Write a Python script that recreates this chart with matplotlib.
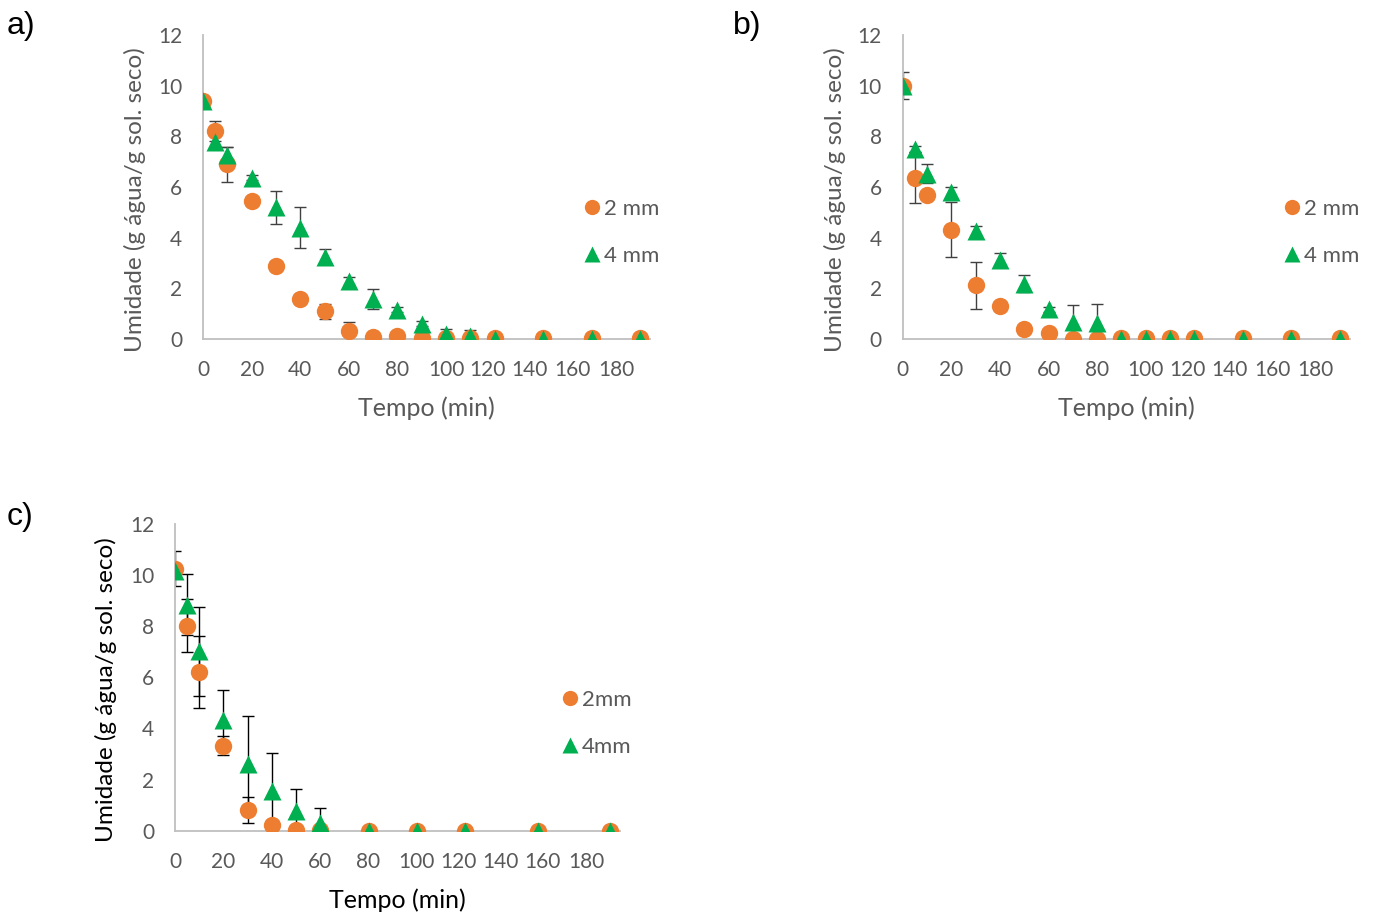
import numpy as np
import matplotlib
matplotlib.use("Agg")
import matplotlib.pyplot as plt
from matplotlib.lines import Line2D

plt.rcParams['font.family'] = ['Lato', 'DejaVu Sans']

orange = '#ED7D31'
green = '#00B050'
gray_txt = '#595959'
axis_col = '#BFBFBF'

# time points (min)
t_ab = [0, 5, 10, 20, 30, 40, 50, 60, 70, 80, 90, 100, 110, 120, 140, 160, 180]
t_c = [0, 5, 10, 20, 30, 40, 50, 60, 80, 100, 120, 150, 180]

# panel a
a_2mm = [9.38, 8.2, 6.89, 5.45, 2.89, 1.56, 1.10, 0.31, 0.09, 0.12, 0.04, 0.05, 0.05, 0.03, 0.03, 0.03, 0.03]
a_2mm_err = [0, 0.4, 0.7, 0, 0, 0, 0.3, 0.36, 0, 0, 0, 0, 0, 0, 0, 0, 0]
a_4mm = [9.4, 7.77, 7.28, 6.36, 5.2, 4.4, 3.25, 2.3, 1.58, 1.15, 0.6, 0.2, 0.1, 0.0, 0.0, 0.0, 0.0]
a_4mm_err = [0, 0, 0.3, 0.1, 0.65, 0.8, 0.3, 0.15, 0.4, 0.1, 0.1, 0.2, 0.25, 0, 0, 0, 0]

# panel b
b_2mm = [10.0, 6.37, 5.7, 4.32, 2.12, 1.31, 0.39, 0.24, 0.0, 0.0, 0.03, 0.03, 0.03, 0.03, 0.03, 0.03, 0.03]
b_2mm_err = [0.52, 1.0, 0, 1.1, 0.92, 0, 0, 0, 0, 0, 0, 0, 0, 0, 0, 0, 0]
b_4mm = [10.0, 7.5, 6.52, 5.81, 4.26, 3.12, 2.18, 1.17, 0.68, 0.62, 0, 0, 0, 0, 0, 0, 0]
b_4mm_err = [0, 0.1, 0.38, 0.2, 0.2, 0.28, 0.34, 0.1, 0.67, 0.77, 0, 0, 0, 0, 0, 0, 0]

# panel c
c_2mm = [10.25, 8.03, 6.21, 3.32, 0.81, 0.22, 0.03, 0.03, 0, 0, 0, 0, 0]
c_2mm_err = [0.68, 1.03, 1.42, 0.37, 0.5, 0, 0, 0, 0, 0, 0, 0, 0]
c_4mm = [10.18, 8.84, 7.02, 4.34, 2.61, 1.57, 0.78, 0.29, 0, 0, 0, 0, 0]
c_4mm_err = [0, 1.2, 1.74, 1.15, 1.89, 1.49, 0.84, 0.59, 0, 0, 0, 0, 0]

x_tick_labels = ['0', '20', '40', '60', '80', '100', '120', '140', '160', '180']
# labels after 100 sit squeezed together in the original
x_tick_pos = [0, 20, 40, 60, 80, 100, 117.2, 134.5, 152, 170]
y_ticks = [0, 2, 4, 6, 8, 10, 12]


def draw_panel(ax, t, y2, e2, y4, e4, leg_labels, leg_x, ylab_x, err_col, lab_col):
    t = np.array(t)
    for y, e, z in ((y2, e2, 1), (y4, e4, 2)):
        y = np.array(y)
        e = np.array(e)
        m = e > 0
        ax.errorbar(t[m], y[m], yerr=e[m], fmt='none', ecolor=err_col,
                    elinewidth=1.0, capsize=4.5, capthick=1.0, zorder=z)
    ax.plot(t, y2, 'o', color=orange, ms=12.5, mec='none', zorder=3)
    ax.plot(t, y4, '^', color=green, ms=13, mec='none', zorder=4)

    ax.set_xlim(0, 184)
    ax.set_ylim(0, 12)
    ax.set_xticks(x_tick_pos)
    ax.set_xticklabels(x_tick_labels)
    ax.set_yticks(y_ticks)
    ax.tick_params(length=0, labelsize=15, colors=gray_txt)
    ax.tick_params(axis='x', pad=15)
    ax.tick_params(axis='y', pad=15)
    for s in ('top', 'right'):
        ax.spines[s].set_visible(False)
    for s in ('left', 'bottom'):
        ax.spines[s].set_color(axis_col)
        ax.spines[s].set_linewidth(1.3)
    ax.set_xlabel('Tempo (min)', fontsize=18, color=lab_col, labelpad=12)
    ax.set_ylabel('Umidade (g água/g sol. seco)', fontsize=17.5, color=lab_col)
    ax.yaxis.set_label_coords(ylab_x, 0.46)

    handles = [Line2D([], [], marker='o', ls='none', color=orange, ms=11, mec='none'),
               Line2D([], [], marker='^', ls='none', color=green, ms=11.5, mec='none')]
    leg = ax.legend(handles, leg_labels, loc='center left', bbox_to_anchor=(leg_x, 0.35),
                    frameon=False, fontsize=16, borderpad=0, borderaxespad=0,
                    handlelength=0.7, handletextpad=0.2, labelspacing=1.2)
    for txt in leg.get_texts():
        txt.set_color(gray_txt)


fig = plt.figure(figsize=(13.73, 9.16), dpi=100)
ax_a = fig.add_axes([0.1479, 0.6299, 0.3256, 0.3319])
ax_b = fig.add_axes([0.6575, 0.6299, 0.3256, 0.3319])
ax_c = fig.add_axes([0.1275, 0.0931, 0.3241, 0.3348])

draw_panel(ax_a, t_ab, a_2mm, a_2mm_err, a_4mm, a_4mm_err, ['2 mm', '4 mm'], 0.853, -0.128, '#404040', gray_txt)
draw_panel(ax_b, t_ab, b_2mm, b_2mm_err, b_4mm, b_4mm_err, ['2 mm', '4 mm'], 0.853, -0.128, '#404040', gray_txt)
draw_panel(ax_c, t_c, c_2mm, c_2mm_err, c_4mm, c_4mm_err, ['2mm', '4mm'], 0.870, -0.131, 'black', 'black')

for lab, x, y in (('a)', 0.005, 0.972), ('b)', 0.534, 0.972), ('c)', 0.005, 0.436)):
    fig.text(x, y, lab, fontsize=23, family='Liberation Sans', va='center', ha='left')

fig.savefig('out.png', dpi=100)
